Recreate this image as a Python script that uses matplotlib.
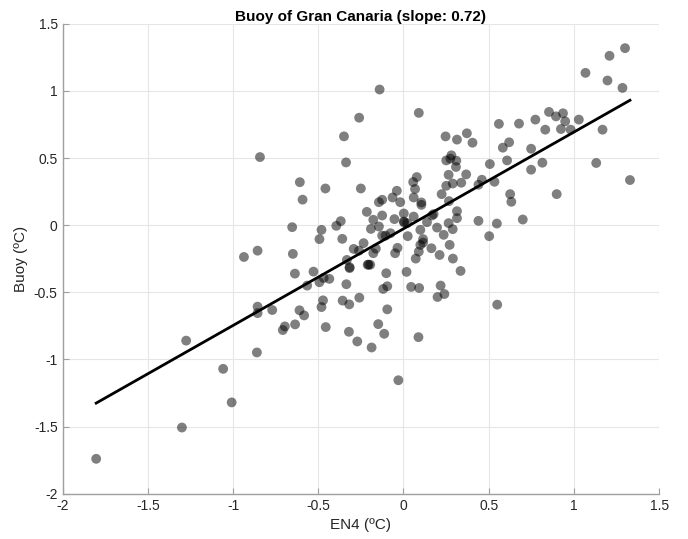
import numpy as np
import matplotlib
matplotlib.use('Agg')
import matplotlib.pyplot as plt

# Dados (EN4 x Boia)
en4 = [
    -1.803, -1.300, -1.275, -1.058, -1.008, -0.936, -0.860, -0.856, -0.856, -0.856,
    -0.842, -0.770, -0.708, -0.696, -0.653, -0.649, -0.637, -0.636, -0.610, -0.608,
    -0.592, -0.583, -0.565, -0.528, -0.493, -0.493, -0.481, -0.481, -0.472, -0.468,
    -0.458, -0.456, -0.435, -0.394, -0.368, -0.359, -0.357, -0.349, -0.337, -0.335,
    -0.332, -0.320, -0.318, -0.316, -0.316, -0.292, -0.271, -0.261, -0.260, -0.259,
    -0.250, -0.234, -0.215, -0.210, -0.205, -0.195, -0.191, -0.187, -0.177, -0.177,
    -0.162, -0.148, -0.144, -0.144, -0.140, -0.125, -0.125, -0.125, -0.119, -0.113,
    -0.105, -0.101, -0.095, -0.095, -0.076, -0.064, -0.053, -0.049, -0.039, -0.035,
    -0.030, -0.019, 0.002, 0.002, 0.004, 0.018, 0.022, 0.025, 0.045, 0.057,
    0.060, 0.060, 0.068, 0.072, 0.078, 0.088, 0.090, 0.090, 0.092, 0.099,
    0.099, 0.105, 0.105, 0.115, 0.115, 0.138, 0.164, 0.168, 0.177, 0.197,
    0.200, 0.212, 0.218, 0.224, 0.236, 0.240, 0.247, 0.251, 0.251, 0.265,
    0.265, 0.267, 0.271, 0.275, 0.281, 0.289, 0.289, 0.290, 0.308, 0.310,
    0.314, 0.314, 0.314, 0.335, 0.339, 0.368, 0.372, 0.405, 0.440, 0.440,
    0.460, 0.503, 0.507, 0.534, 0.548, 0.550, 0.560, 0.583, 0.608, 0.620,
    0.626, 0.633, 0.678, 0.700, 0.749, 0.749, 0.774, 0.815, 0.832, 0.854,
    0.895, 0.899, 0.924, 0.936, 0.949, 0.981, 1.029, 1.068, 1.131, 1.168,
    1.197, 1.209, 1.285, 1.300, 1.329,
]
boia = [
    -1.740, -1.507, -0.860, -1.070, -1.320, -0.237, -0.948, -0.190, -0.607, -0.655,
    0.507, -0.632, -0.781, -0.754, -0.015, -0.214, -0.361, -0.739, -0.634, 0.320,
    0.190, -0.672, -0.450, -0.346, -0.104, -0.425, -0.035, -0.610, -0.560, -0.393,
    0.273, -0.759, -0.400, -0.005, 0.030, -0.102, -0.562, 0.661, 0.467, -0.440,
    -0.259, -0.794, -0.590, -0.313, -0.320, -0.177, -0.866, -0.190, 0.800, -0.540,
    0.273, -0.134, 0.099, -0.295, -0.294, -0.295, -0.028, -0.911, 0.040, -0.209,
    -0.175, -0.737, 0.171, -0.010, 1.010, 0.189, 0.072, -0.078, -0.475, -0.809,
    -0.078, -0.358, -0.455, -0.627, -0.060, 0.206, 0.045, -0.209, 0.256, -0.169,
    -1.155, 0.171, 0.087, 0.027, 0.020, -0.348, 0.015, -0.082, -0.460, 0.321,
    0.206, 0.064, 0.269, -0.249, 0.358, -0.834, 0.836, -0.197, -0.468, -0.035,
    -0.147, 0.169, 0.151, -0.104, -0.130, 0.022, -0.172, 0.072, 0.082, -0.018,
    -0.535, -0.222, -0.450, 0.231, -0.072, -0.513, 0.661, 0.482, 0.293, 0.375,
    0.015, 0.179, -0.147, 0.495, 0.520, 0.310, -0.030, -0.249, 0.433, 0.480,
    0.637, 0.104, 0.052, -0.341, 0.316, 0.378, 0.684, 0.614, 0.301, 0.032,
    0.338, -0.082, 0.455, 0.323, 0.012, -0.592, 0.754, 0.577, 0.482, 0.617,
    0.231, 0.174, 0.756, 0.042, 0.569, 0.413, 0.786, 0.465, 0.711, 0.843,
    0.810, 0.231, 0.716, 0.833, 0.773, 0.711, 0.786, 1.134, 0.463, 0.711,
    1.077, 1.261, 1.022, 1.318, 0.336,
]

# Reta de regressão (inclinação do título)
inclinacao = 0.72
intercepto = -0.027

en4 = np.array(en4)
boia = np.array(boia)

plt.rcParams['font.family'] = ['Liberation Sans', 'DejaVu Sans']

figura = plt.figure(figsize=(6.88, 5.39), dpi=100)
ax = figura.add_axes([0.091, 0.084, 0.867, 0.872])

ax.scatter(en4, boia, s=50, color='black', alpha=0.5, edgecolors='none', zorder=3)

xr = np.array([en4.min(), en4.max()])
ax.plot(xr, inclinacao * xr + intercepto, color='black', linewidth=2, zorder=4)

ax.set_xlim(-2, 1.5)
ax.set_ylim(-2, 1.5)
ax.set_xticks(np.arange(-2, 1.51, 0.5))
ax.set_yticks(np.arange(-2, 1.51, 0.5))
ax.set_xticklabels(['-2', '-1.5', '-1', '-0.5', '0', '0.5', '1', '1.5'])
ax.set_yticklabels(['-2', '-1.5', '-1', '-0.5', '0', '0.5', '1', '1.5'])
ax.grid(True, color='#e6e6e6', linewidth=0.8, zorder=0)
ax.set_axisbelow(True)

for lado in ['top', 'right']:
    ax.spines[lado].set_visible(False)
for lado in ['left', 'bottom']:
    ax.spines[lado].set_color('#a0a0a0')
    ax.spines[lado].set_linewidth(1.0)
ax.tick_params(direction='in', length=4, color='#a0a0a0', labelsize=10, labelcolor='#262626')

ax.set_title('Buoy of Gran Canaria (slope: 0.72)', fontsize=11, fontweight='bold', pad=2)
ax.set_xlabel('EN4 (ºC)', fontsize=11, color='#262626')
ax.set_ylabel('Buoy (ºC)', fontsize=11, color='#262626')

figura.savefig('out.png', dpi=100)
